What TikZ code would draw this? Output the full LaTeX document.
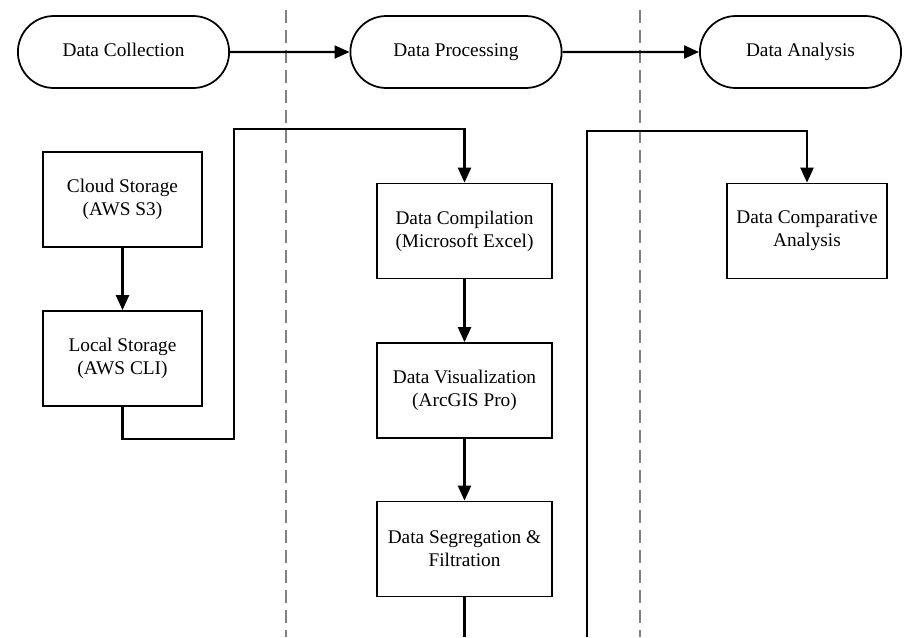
\documentclass[tikz,border=0pt]{standalone}
\usepackage{fontspec}
\setmainfont{Liberation Serif}
\usepackage{tikz}
\usetikzlibrary{arrows.meta,shapes.misc}
\tikzset{x=0.02cm, y=-0.02cm,
    phase/.style={draw, rounded rectangle, line width=1pt,
        minimum width=4.46cm, minimum height=1.44cm,
        text height=1.6ex, text depth=0.5ex,
        font=\fontsize{11}{13}\selectfont},
    task/.style={draw, rectangle, line width=1pt, align=center,
        minimum width=3.18cm, minimum height=1.9cm,
        font=\fontsize{11}{13}\selectfont},
    flow/.style={draw, line width=1.3pt,
        -{Triangle[length=3mm,width=2.6mm]}},
    plain/.style={draw, line width=1.3pt},
    lane/.style={draw=gray, line width=1.2pt, dash pattern=on 0.26cm off 0.14cm}}

\begin{document}
\begin{tikzpicture}
    \useasboundingbox (0,0) rectangle (908,637);
    % lane dividers
    \draw[lane] (286,10) -- (286,637);
    \draw[lane] (640,10) -- (640,637);

    % phases
    \node[phase] (collect) at (123.5,52) {Data Collection};
    \node[phase] (process) at (456,52) {Data Processing};
    \node[phase, minimum width=4.26cm] (analysis) at (800.5,52) {Data Analysis};

    % tasks
    \node[task] (cloud) at (122.5,199.5) {Cloud Storage\\(AWS S3)};
    \node[task] (local) at (122.5,358.5) {Local Storage\\(AWS CLI)};
    \node[task, minimum width=3.5cm] (compile) at (464.5,231) {Data Compilation\\(Microsoft Excel)};
    \node[task, minimum width=3.5cm] (visual) at (464.5,390.5) {Data Visualization\\(ArcGIS Pro)};
    \node[task, minimum width=3.5cm] (segreg) at (464.5,549) {Data Segregation \&\\Filtration};
    \node[task, minimum width=3.2cm] (compare) at (807,231) {Data Comparative\\Analysis};

    \coordinate (segend) at (464.5,637);
    \coordinate (anastart) at (587,637);

    % connectors
    \draw[flow] (collect) -- (process);
    \draw[flow] (process) -- (analysis);
    \draw[flow] (cloud) -- (local);
    \draw[flow] (local.south) -- ++(0,32) -| (234,129) -| (compile.north);
    \draw[flow] (compile) -- (visual);
    \draw[flow] (visual) -- (segreg);
    \draw[plain] (segreg) -- (segend);
    \draw[flow] (anastart) -- (587,131) -| (compare.north);
\end{tikzpicture}
\end{document}
